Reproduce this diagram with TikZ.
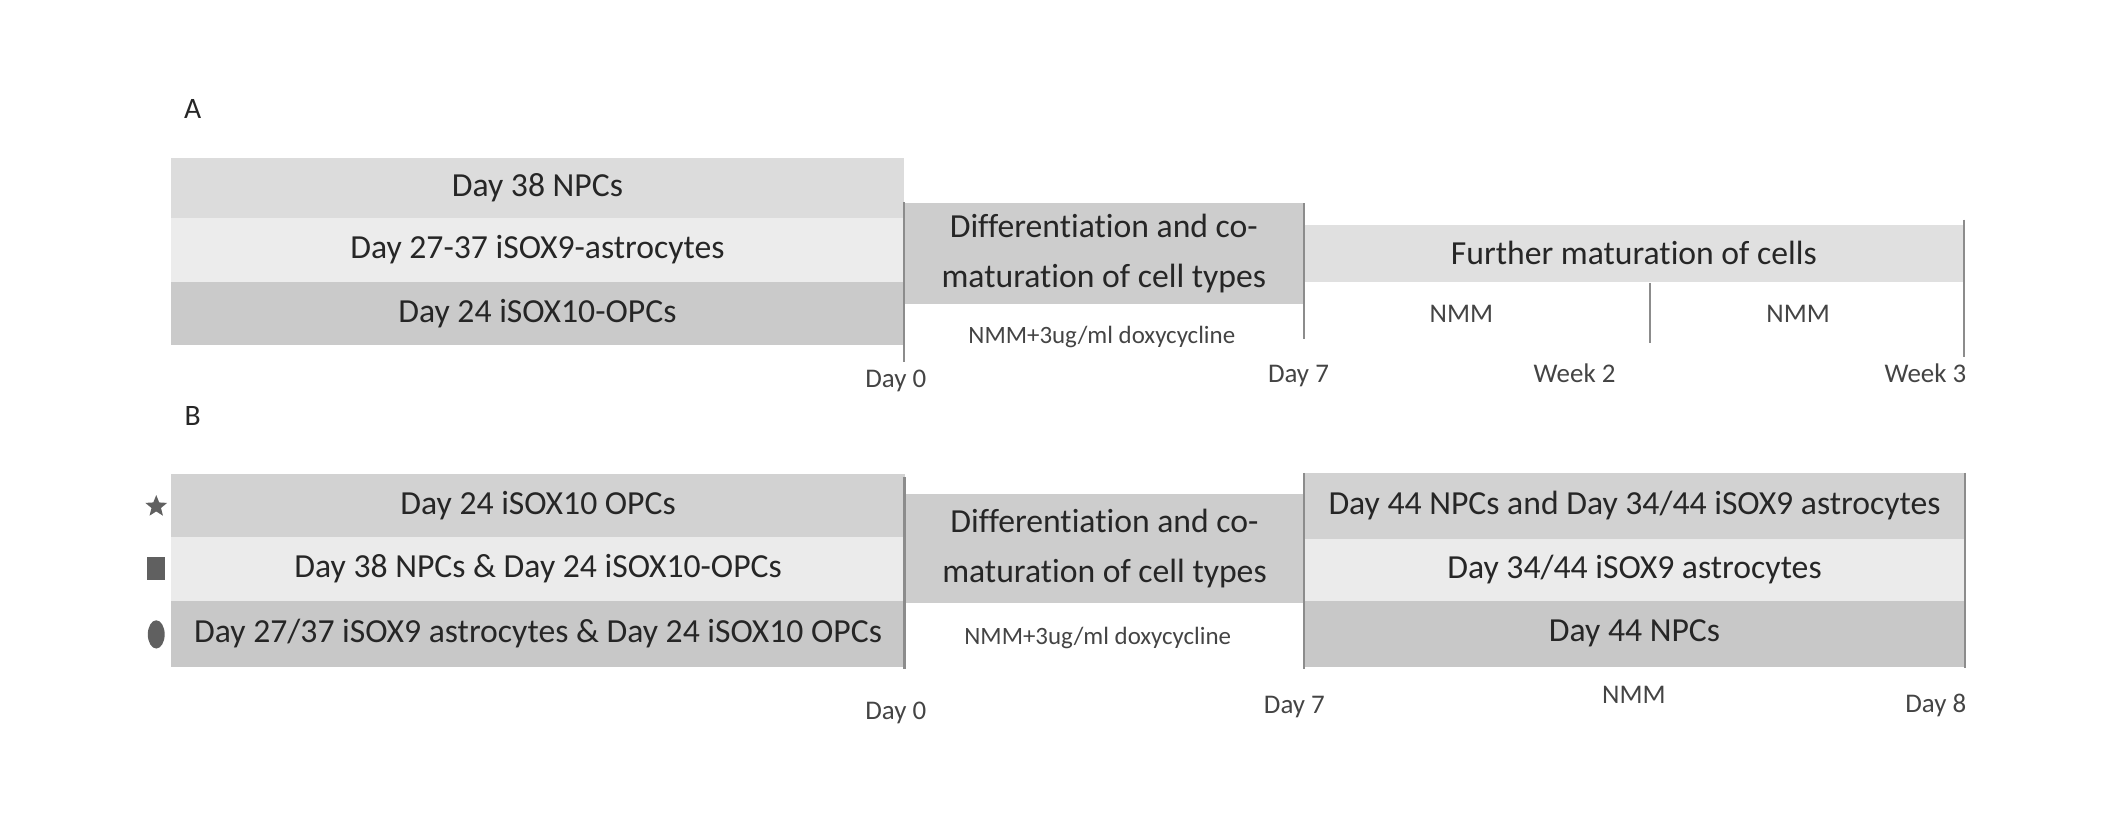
\documentclass[tikz,border=0pt]{standalone}
\usepackage{fontspec}
\setmainfont{Carlito}[Ligatures={NoCommon}]
\usetikzlibrary{shapes.geometric}
\definecolor{rowAa}{HTML}{DCDCDC}
\definecolor{rowAb}{HTML}{ECECEC}
\definecolor{rowAc}{HTML}{CACACA}
\definecolor{diffc}{HTML}{CDCDCD}
\definecolor{furth}{HTML}{E0E0E0}
\definecolor{rowBa}{HTML}{D2D2D2}
\definecolor{rowBb}{HTML}{EBEBEB}
\definecolor{rowBc}{HTML}{C8C8C8}
\definecolor{txt}{HTML}{262626}
\definecolor{labc}{HTML}{444444}
\definecolor{linec}{HTML}{8C8C8C}
\definecolor{symc}{HTML}{606060}
\begin{document}
\begin{tikzpicture}[x=1bp,y=-1bp,
  cell/.style={inner sep=0pt, outer sep=0pt, text=txt, font=\fontsize{25bp}{30bp}\selectfont},
  twoline/.style={cell, align=center, font=\fontsize{25bp}{37bp}\selectfont},
  lab/.style={inner sep=0pt, text=labc, font=\fontsize{20bp}{24bp}\selectfont},
  medium/.style={inner sep=0pt, text=labc, font=\fontsize{18.5bp}{22bp}\selectfont},
  panel/.style={inner sep=0pt, text=txt, font=\fontsize{22bp}{26bp}\selectfont},
  tick/.style={draw=linec, line width=1.6bp},
  sym/.style={fill=symc, draw=none, inner sep=0pt}]
\useasboundingbox (0,0) rectangle (1568,613);

% ---------------- Panel A ----------------
\node[panel] (pA) at (143,81) {A};
\node[cell, fill=rowAa, minimum width=544bp, minimum height=45bp] (a1) at (399,139.5) {Day 38 NPCs};
\node[cell, fill=rowAb, minimum width=544bp, minimum height=47bp] (a2) at (399,185.5) {Day 27-37 iSOX9-astrocytes};
\node[cell, fill=rowAc, minimum width=544bp, minimum height=47bp] (a3) at (399,232.5) {Day 24 iSOX10-OPCs};
\node[twoline, fill=diffc, minimum width=297bp, minimum height=75bp] (adiff) at (819.5,188.5) {Differentiation and co-\\maturation of cell types};
\node[medium] (adox) at (818,250) {NMM+3ug/ml doxycycline};
\node[cell, fill=furth, minimum width=490bp, minimum height=42bp] (afur) at (1213,188) {Further maturation of cells};
\node[lab] (anmm1) at (1085,233) {NMM};
\node[lab] (anmm2) at (1335,233) {NMM};

\coordinate (a0t) at (671,150);  \coordinate (a0b) at (671,269);
\coordinate (a7t) at (968,151);  \coordinate (a7b) at (968,252);
\coordinate (awt) at (1225,210); \coordinate (awb) at (1225,255);
\coordinate (aet) at (1458,163); \coordinate (aeb) at (1458,265);
\draw[tick] (a0t) -- (a0b);
\draw[tick] (a7t) -- (a7b);
\draw[tick] (awt) -- (awb);
\draw[tick] (aet) -- (aeb);

\node[lab] (al0) at (665,283) {Day 0};
\node[lab] (al7) at (964,279) {Day 7};
\node[lab] (alw2) at (1169,277) {Week 2};
\node[lab, anchor=east] (alw3) at (1460,277) {Week 3};

% ---------------- Panel B ----------------
\node[panel] (pB) at (143,309) {B};
\node[cell, fill=rowBa, minimum width=545bp, minimum height=47bp] (b1) at (399.5,375.5) {Day 24 iSOX10 OPCs};
\node[cell, fill=rowBb, minimum width=545bp, minimum height=47bp] (b2) at (399.5,422.5) {Day 38 NPCs \& Day 24 iSOX10-OPCs};
\node[cell, fill=rowBc, minimum width=545bp, minimum height=49bp] (b3) at (399.5,470.5) {Day 27/37 iSOX9 astrocytes \& Day 24 iSOX10 OPCs};
\node[sym, star, star points=5, star point ratio=2.3, minimum size=17bp] (s1) at (116,376) {};
\node[sym, rectangle, minimum width=13bp, minimum height=17bp] (s2) at (116,422) {};
\node[sym, ellipse, minimum width=12.5bp, minimum height=21bp] (s3) at (116,471) {};

\node[twoline, fill=diffc, minimum width=296bp, minimum height=81bp] (bdiff) at (820,407.5) {Differentiation and co-\\maturation of cell types};
\node[medium] (bdox) at (815,474) {NMM+3ug/ml doxycycline};

\node[cell, fill=rowBa, minimum width=491bp, minimum height=49bp] (c1) at (1213.5,375.5) {Day 44 NPCs and Day 34/44 iSOX9 astrocytes};
\node[cell, fill=rowBb, minimum width=491bp, minimum height=46bp] (c2) at (1213.5,423) {Day 34/44 iSOX9 astrocytes};
\node[cell, fill=rowBc, minimum width=491bp, minimum height=49bp] (c3) at (1213.5,470.5) {Day 44 NPCs};

\coordinate (b0t) at (671.5,354); \coordinate (b0b) at (671.5,497);
\coordinate (b7t) at (968,351);   \coordinate (b7b) at (968,497);
\coordinate (bet) at (1459,351);  \coordinate (beb) at (1459,496);
\draw[tick] (b0t) -- (b0b);
\draw[tick] (b7t) -- (b7b);
\draw[tick] (bet) -- (beb);

\node[lab] (bl0) at (665,529) {Day 0};
\node[lab] (bl7) at (961,525) {Day 7};
\node[lab] (bnmm) at (1213,516) {NMM};
\node[lab, anchor=east] (bl8) at (1460,524) {Day 8};
\end{tikzpicture}
\end{document}
